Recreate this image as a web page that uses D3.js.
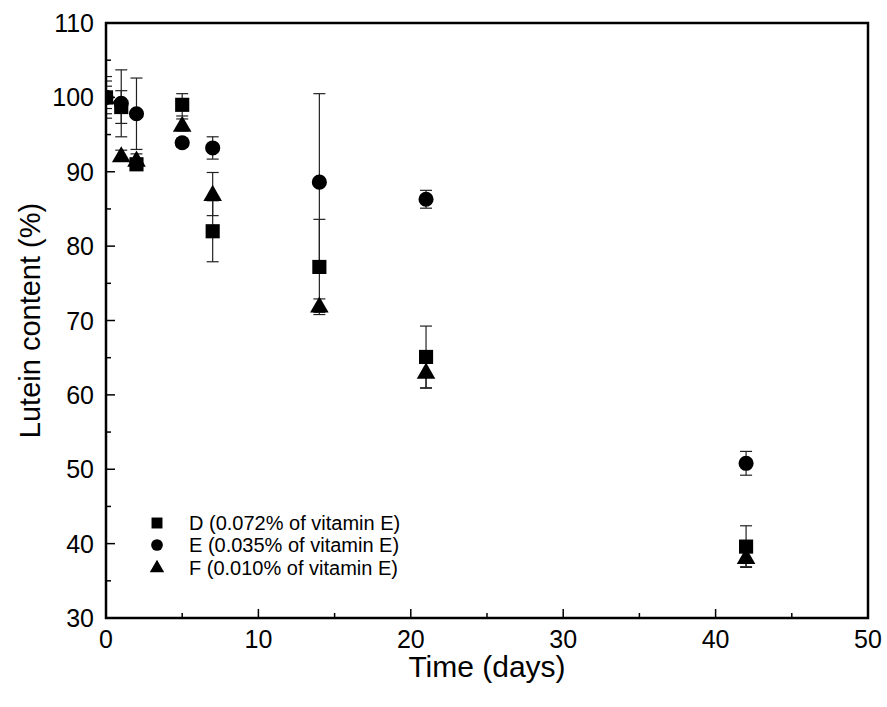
<!DOCTYPE html>
<html><head><meta charset="utf-8">
<script src="https://cdn.jsdelivr.net/npm/d3@7"></script>
<style>body{margin:0;background:#fff}svg{display:block;font-family:"Liberation Sans",Arial,sans-serif}</style>
</head><body><div id="chart"></div>
<script>
const days = [0, 1, 2, 5, 7, 14, 21, 42];
const seriesNames = ["D (0.072% of vitamin E)", "E (0.035% of vitamin E)", "F (0.010% of vitamin E)"];
const valuesD = [100, 98.7, 91.0, 99.0, 82.0, 77.2, 65.1, 39.6];
const errorsD = [2.2, 2.2, 0.8, 1.5, 4.1, 6.4, 4.15, 2.8];
const valuesE = [100, 99.2, 97.8, 93.9, 93.2, 88.6, 86.3, 50.8];
const errorsE = [2.8, 4.5, 4.8, 0.6, 1.5, 11.9, 1.2, 1.6];
const valuesF = [100, 92.2, 91.6, 96.3, 87.0, 72.0, 63.1, 38.2];
const errorsF = [1.5, 0.7, 0.8, 0.8, 2.9, 0.9, 2.2, 1.3];
const xTicks = [0, 10, 20, 30, 40, 50];
const yTicks = [30, 40, 50, 60, 70, 80, 90, 100, 110];

const W = 887, H = 707;
const L = 106, R = 868, T = 23, B = 618;
const svg = d3.select("#chart").append("svg").attr("width", W).attr("height", H);
const x = d3.scaleLinear().domain([0, 50]).range([L, R]);
const y = d3.scaleLinear().domain([30, 110]).range([B, T]);

svg.append("defs").append("clipPath").attr("id", "clip")
  .append("rect").attr("x", L).attr("y", T).attr("width", R - L).attr("height", B - T);

const series = [
  {name: seriesNames[0], vals: valuesD, errs: errorsD, sym: d3.symbolSquare, size: 200},
  {name: seriesNames[1], vals: valuesE, errs: errorsE, sym: d3.symbolCircle, size: 180},
  {name: seriesNames[2], vals: valuesF, errs: errorsF, sym: d3.symbolTriangle, size: 150}
];

const g = svg.append("g").attr("clip-path", "url(#clip)");
series.forEach(s => {
  days.forEach((d, i) => {
    const cx = x(d), top = y(s.vals[i] + s.errs[i]), bot = y(s.vals[i] - s.errs[i]);
    g.append("line").attr("x1", cx).attr("x2", cx).attr("y1", top).attr("y2", bot)
      .attr("stroke", "#222").attr("stroke-width", 1.2);
    [top, bot].forEach(yy => g.append("line").attr("x1", cx - 6).attr("x2", cx + 6)
      .attr("y1", yy).attr("y2", yy).attr("stroke", "#222").attr("stroke-width", 1.2));
  });
});
[series[1], series[0], series[2]].forEach(s => {
  const sym = d3.symbol().type(s.sym).size(s.size);
  days.forEach((d, i) => {
    g.append("path").attr("d", sym())
      .attr("transform", `translate(${x(d)},${y(s.vals[i]) + (s.sym === d3.symbolTriangle ? 1.5 : 0)})`)
      .attr("fill", "#000");
  });
});

const xMinor = d3.range(0, 51, 5), yMinor = d3.range(30, 111, 5);
const axG = svg.append("g");
xMinor.forEach(v => {
  const major = v % 10 === 0;
  axG.append("line").attr("x1", x(v)).attr("x2", x(v)).attr("y1", B).attr("y2", B - (major ? 9 : 5))
    .attr("stroke", "#000").attr("stroke-width", 1.5);
});
yMinor.forEach(v => {
  const major = v % 10 === 0;
  axG.append("line").attr("x1", L).attr("x2", L + (major ? 9 : 5)).attr("y1", y(v)).attr("y2", y(v))
    .attr("stroke", "#000").attr("stroke-width", 1.5);
});
axG.append("rect").attr("x", L).attr("y", T).attr("width", R - L).attr("height", B - T)
  .attr("fill", "none").attr("stroke", "#000").attr("stroke-width", 2.5);

xTicks.forEach(v => svg.append("text").attr("x", x(v)).attr("y", B + 30)
  .attr("text-anchor", "middle").attr("font-size", 25).text(v));
yTicks.forEach(v => svg.append("text").attr("x", L - 12).attr("y", y(v) + 9)
  .attr("text-anchor", "end").attr("font-size", 25).text(v));

svg.append("text").attr("x", (L + R) / 2).attr("y", 677).attr("text-anchor", "middle")
  .attr("font-size", 30).text("Time (days)");
svg.append("text").attr("transform", `translate(40,${(T + B) / 2}) rotate(-90)`)
  .attr("text-anchor", "middle").attr("font-size", 29).text("Lutein content (%)");

const legY = [523, 545, 568];
series.forEach((s, i) => {
  const sym = d3.symbol().type(s.sym).size(s.size * 0.6);
  svg.append("path").attr("d", sym()).attr("transform", `translate(157,${legY[i]})`).attr("fill", "#000");
  svg.append("text").attr("x", 189).attr("y", legY[i] + 7).attr("font-size", 20).text(s.name);
});
</script></body></html>
